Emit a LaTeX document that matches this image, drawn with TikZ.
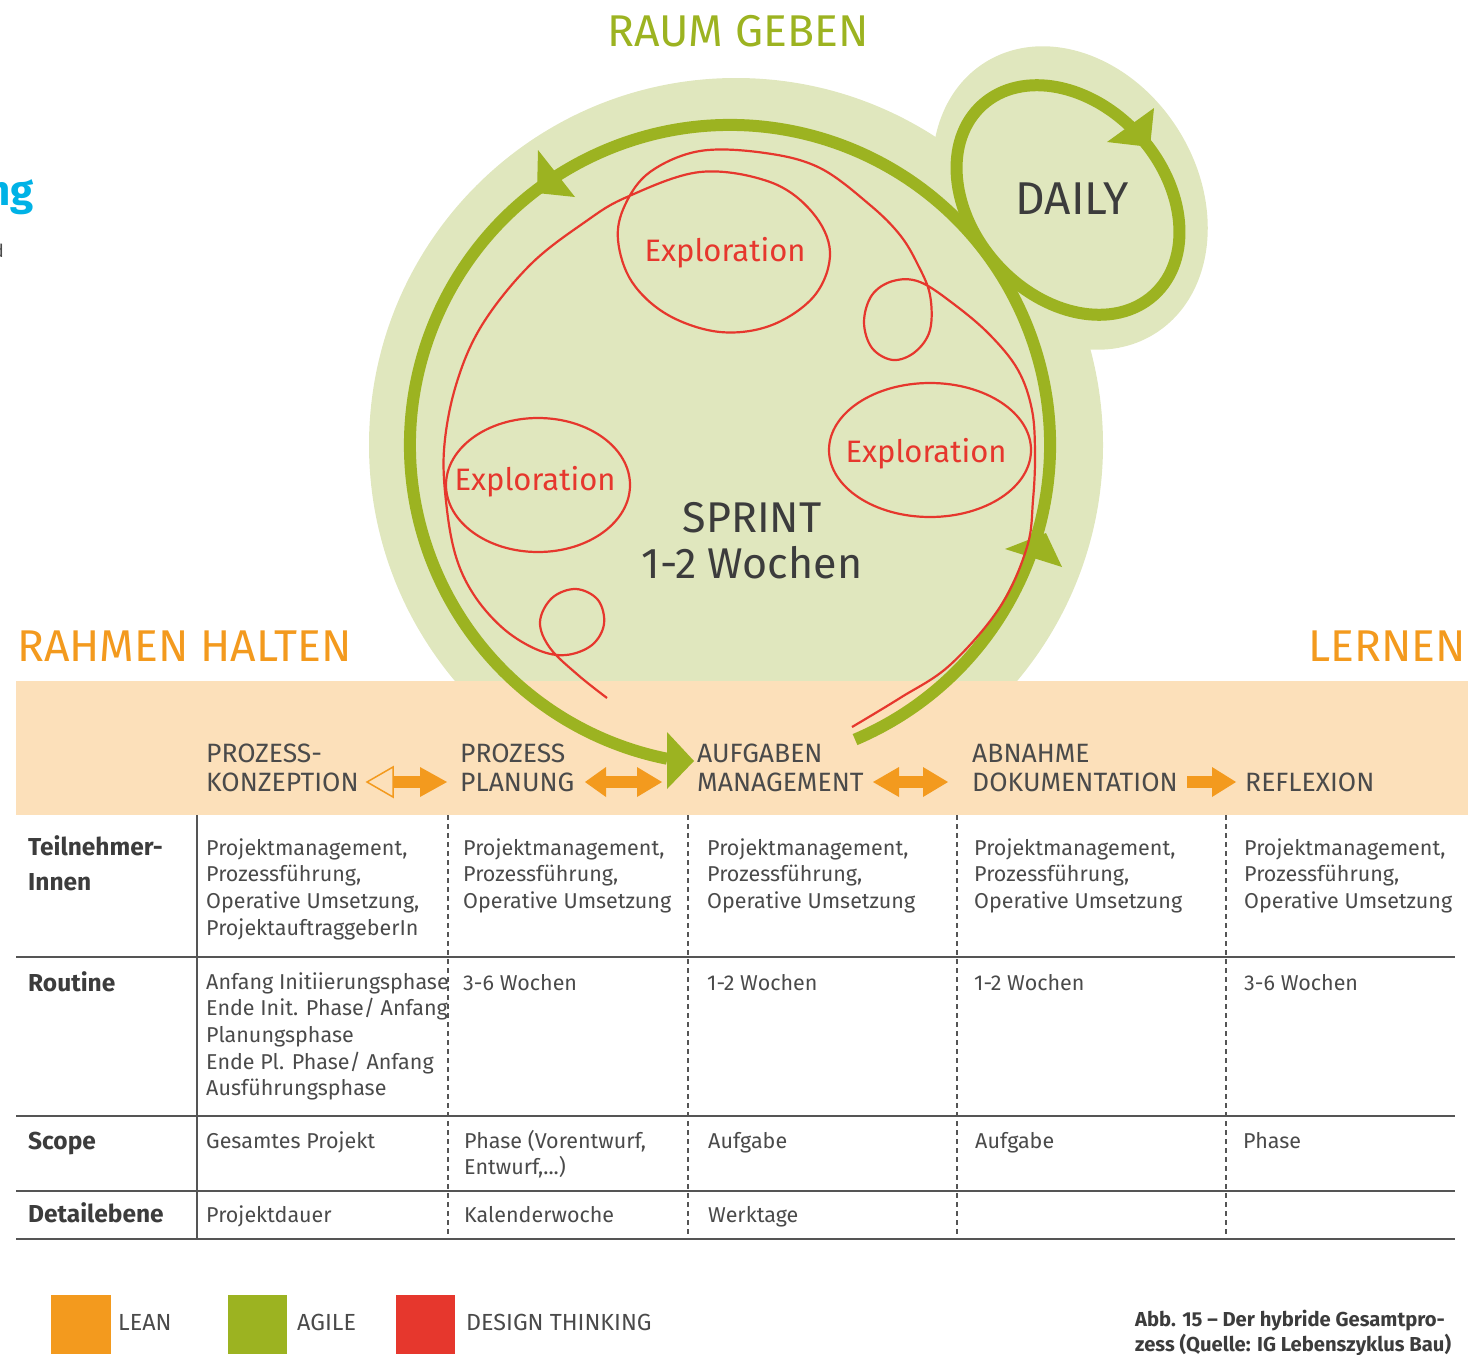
\documentclass[tikz,border=0pt]{standalone}
\usepackage{fontspec}
\setmainfont{Fira Sans}
\definecolor{lgreen}{RGB}{224,231,190}
\definecolor{agile}{RGB}{156,179,33}
\definecolor{lean}{RGB}{243,154,30}
\definecolor{dt}{RGB}{230,55,45}
\definecolor{band}{RGB}{252,224,186}
\definecolor{txt}{RGB}{74,74,74}
\definecolor{txtd}{RGB}{60,60,60}
\definecolor{cyanc}{RGB}{0,178,230}
\definecolor{rulec}{RGB}{85,85,85}
\newcommand\cellcol[4]{\foreach \t [count=\i] in {#4}{\node[cell] (#1-\i) at (#2,{#3+26.7*(\i-1)}) {\t};}}
\begin{document}
\begin{tikzpicture}[x=1pt,y=-1pt,
  agileline/.style={draw=agile, line width=12pt},
  dtline/.style={draw=dt, line width=2.2pt},
  cell/.style={anchor=base west, inner sep=0pt, text=txt, font=\fontsize{21.5}{25}\selectfont},
  rowlab/.style={anchor=base west, inner sep=0pt, text=txtd, font=\bfseries\fontsize{24.5}{28}\selectfont},
  head/.style={anchor=base west, inner sep=0pt, text=txt, font=\fontsize{26.5}{30}\selectfont},
  bigtxt/.style={anchor=base, inner sep=0pt, text=txtd, font=\fontsize{43}{50}\selectfont},
  title/.style={anchor=base, inner sep=0pt, font=\fontsize{44.5}{50}\selectfont},
  explo/.style={anchor=base, inner sep=0pt, text=dt, font=\fontsize{31}{36}\selectfont},
  legtxt/.style={anchor=base west, inner sep=0pt, text=txt, font=\fontsize{23.3}{26}\selectfont},
  capt/.style={anchor=base west, inner sep=0pt, text=txtd, font=\bfseries\fontsize{20.2}{25}\selectfont},
  hrule/.style={draw=rulec, line width=1.5pt},
  vdash/.style={draw=rulec, line width=1.1pt, dash pattern=on 5pt off 4pt},
]
\useasboundingbox (0,0) rectangle (1471,1354);
\clip (0,0) rectangle (1471,1354);

% background shapes
\fill[lgreen] (736,445) circle[radius=367pt];
\fill[lgreen, rotate around={-58:(1070,198)}] (1070,198) ellipse[x radius=160pt, y radius=128pt];
\fill[band] (16,681) rectangle (1468,815);

% agile cycle
\coordinate (C) at (730,445);
\draw[agileline] ([shift={(-67:320pt)}]C) arc[start angle=-67, end angle=258.7, radius=320pt];
\draw[agileline, rotate around={-48:(1068,200)}] (1068,200) ellipse[x radius=128pt, y radius=96pt];
\fill[agile] (538,150) -- (575,197) -- (537,193) -- cycle;
\fill[agile] (1154,108) -- (1107,142) -- (1150,147) -- cycle;
\fill[agile] (1005,549) -- (1046,533) -- (1062,567) -- cycle;
\fill[agile] (667,732) -- (694,761) -- (667,789) -- cycle;

% design thinking line
\draw[dtline] plot[smooth, tension=0.6] coordinates {
 (607,698) (578,675) (550,648) (540,622) (552,598) (576,589) (598,600) (604,624)
 (592,645) (566,655) (538,650) (505,630) (476,598) (457,560) (447,510) (444,450)
 (456,385) (482,325) (530,265) (585,222) (627,197) (700,172) (770,182) (812,212)
 (830,252) (815,295) (772,325) (720,332) (668,315) (632,282) (618,240) (625,205)
 (650,172) (700,151) (765,153) (820,168) (870,205) (900,235) (918,265) (930,295)
 (930,330) (915,352) (893,360) (872,348) (864,322) (872,295) (893,281) (920,282)
 (955,305) (990,335) (1018,370) (1032,410) (1035,455) (1033,500) (1027,547)
 (1000,607) (950,665) (900,698) (852,727)};
\draw[dtline] (538,485) ellipse[x radius=92pt, y radius=67pt];
\draw[dtline] (930,450) ellipse[x radius=101pt, y radius=67pt];

% lean arrows in header
\draw[lean, line width=1.5pt, line join=miter] (367,782) -- (393,767) -- (393,797) -- cycle;
\fill[lean] (393,776) rectangle (421,788);
\fill[lean] (420,767) -- (447,782) -- (420,797) -- cycle;
\fill[lean] (585,782) -- (606,767) -- (606,797) -- cycle;
\fill[lean] (605,776) rectangle (638,788);
\fill[lean] (637,767) -- (662,782) -- (637,797) -- cycle;
\fill[lean] (873,782) -- (899,767) -- (899,797) -- cycle;
\fill[lean] (898,776) rectangle (924,788);
\fill[lean] (923,767) -- (948,782) -- (923,797) -- cycle;
\fill[lean] (1187,776) rectangle (1213,788);
\fill[lean] (1212,767) -- (1236,782) -- (1212,797) -- cycle;

% titles
\node[title, text=agile] (raum) at (738,47) {RAUM GEBEN};
\node[title, text=lean, anchor=base west] (rahmen) at (17,661) {RAHMEN HALTEN};
\node[title, text=lean, anchor=base east] (lernen) at (1466,661) {LERNEN};
\node[anchor=base east, inner sep=0pt, text=cyanc, font=\bfseries\fontsize{42}{48}\selectfont] (ng) at (34,205) {ng};
\node[anchor=base east, inner sep=0pt, text=txt, font=\fontsize{18}{22}\selectfont] (dfrag) at (4,257) {d};
\node[bigtxt, font=\fontsize{46}{50}\selectfont] (daily) at (1072,214) {DAILY};
\node[bigtxt] (sprint) at (752,532) {SPRINT};
\node[bigtxt] (wochen) at (752,578) {1-2 Wochen};
\node[explo] (ex1) at (725,261) {Exploration};
\node[explo] (ex2) at (535,490) {Exploration};
\node[explo] (ex3) at (926,462) {Exploration};

% header
\node[head] (h1a) at (206,762) {PROZESS-};
\node[head] (h1b) at (206,791) {KONZEPTION};
\node[head] (h2a) at (460,762) {PROZESS};
\node[head] (h2b) at (460,791) {PLANUNG};
\node[head] (h3a) at (697,762) {AUFGABEN};
\node[head] (h3b) at (697,791) {MANAGEMENT};
\node[head] (h4a) at (972,762) {ABNAHME};
\node[head] (h4b) at (972,791) {DOKUMENTATION};
\node[head] (h5) at (1245,791) {REFLEXION};

% table rules
\foreach \yy in {957,1116,1191,1239} \draw[hrule] (16,\yy) -- (1455,\yy);
\draw[hrule] (197,815) -- (197,1239);
\foreach \xx in {448,688,957,1226} \draw[vdash] (\xx,815) -- (\xx,1239);

% row labels
\node[rowlab] (l1a) at (28,855) {Teilnehmer-};
\node[rowlab] (l1b) at (28,890) {Innen};
\node[rowlab] (l2) at (28,991) {Routine};
\node[rowlab] (l3) at (28,1149) {Scope};
\node[rowlab] (l4) at (28,1222) {Detailebene};

% row 1
\cellcol{a1}{206}{855}{{Projektmanagement,},{Prozessführung,},{Operative Umsetzung,},ProjektauftraggeberIn}
\cellcol{b1}{463}{855}{{Projektmanagement,},{Prozessführung,},Operative Umsetzung}
\cellcol{c1}{707}{855}{{Projektmanagement,},{Prozessführung,},Operative Umsetzung}
\cellcol{d1}{974}{855}{{Projektmanagement,},{Prozessführung,},Operative Umsetzung}
\cellcol{e1}{1244}{855}{{Projektmanagement,},{Prozessführung,},Operative Umsetzung}
% row 2
\cellcol{a2}{206}{989}{Anfang Initiierungsphase,Ende Init. Phase/ Anfang,Planungsphase,Ende Pl. Phase/ Anfang,Ausführungsphase}
\node[cell] (b2) at (463,990) {3-6 Wochen};
\node[cell] (c2) at (707,990) {1-2 Wochen};
\node[cell] (d2) at (974,990) {1-2 Wochen};
\node[cell] (e2) at (1244,990) {3-6 Wochen};
% row 3
\node[cell] (a3) at (206,1148) {Gesamtes Projekt};
\node[cell] (b3-1) at (464,1148) {Phase (Vorentwurf,};
\node[cell] (b3-2) at (464,1174.7) {Entwurf,...)};
\node[cell] (c3) at (708,1148) {Aufgabe};
\node[cell] (d3) at (975,1148) {Aufgabe};
\node[cell] (e3) at (1243,1148) {Phase};
% row 4
\node[cell] (a4) at (206,1222) {Projektdauer};
\node[cell] (b4) at (464,1222) {Kalenderwoche};
\node[cell] (c4) at (708,1222) {Werktage};

% legend
\fill[lean] (51,1295) rectangle (111,1354);
\fill[agile] (228,1295) rectangle (287,1354);
\fill[dt] (396,1295) rectangle (455,1354);
\node[legtxt] (lg1) at (118,1330) {LEAN};
\node[legtxt] (lg2) at (297,1330) {AGILE};
\node[legtxt] (lg3) at (466,1330) {DESIGN THINKING};
\node[capt] (cap1) at (1135,1326) {Abb. 15 -- Der hybride Gesamtpro-};
\node[capt] (cap2) at (1135,1351) {zess (Quelle: IG Lebenszyklus Bau)};
\end{tikzpicture}
\end{document}
